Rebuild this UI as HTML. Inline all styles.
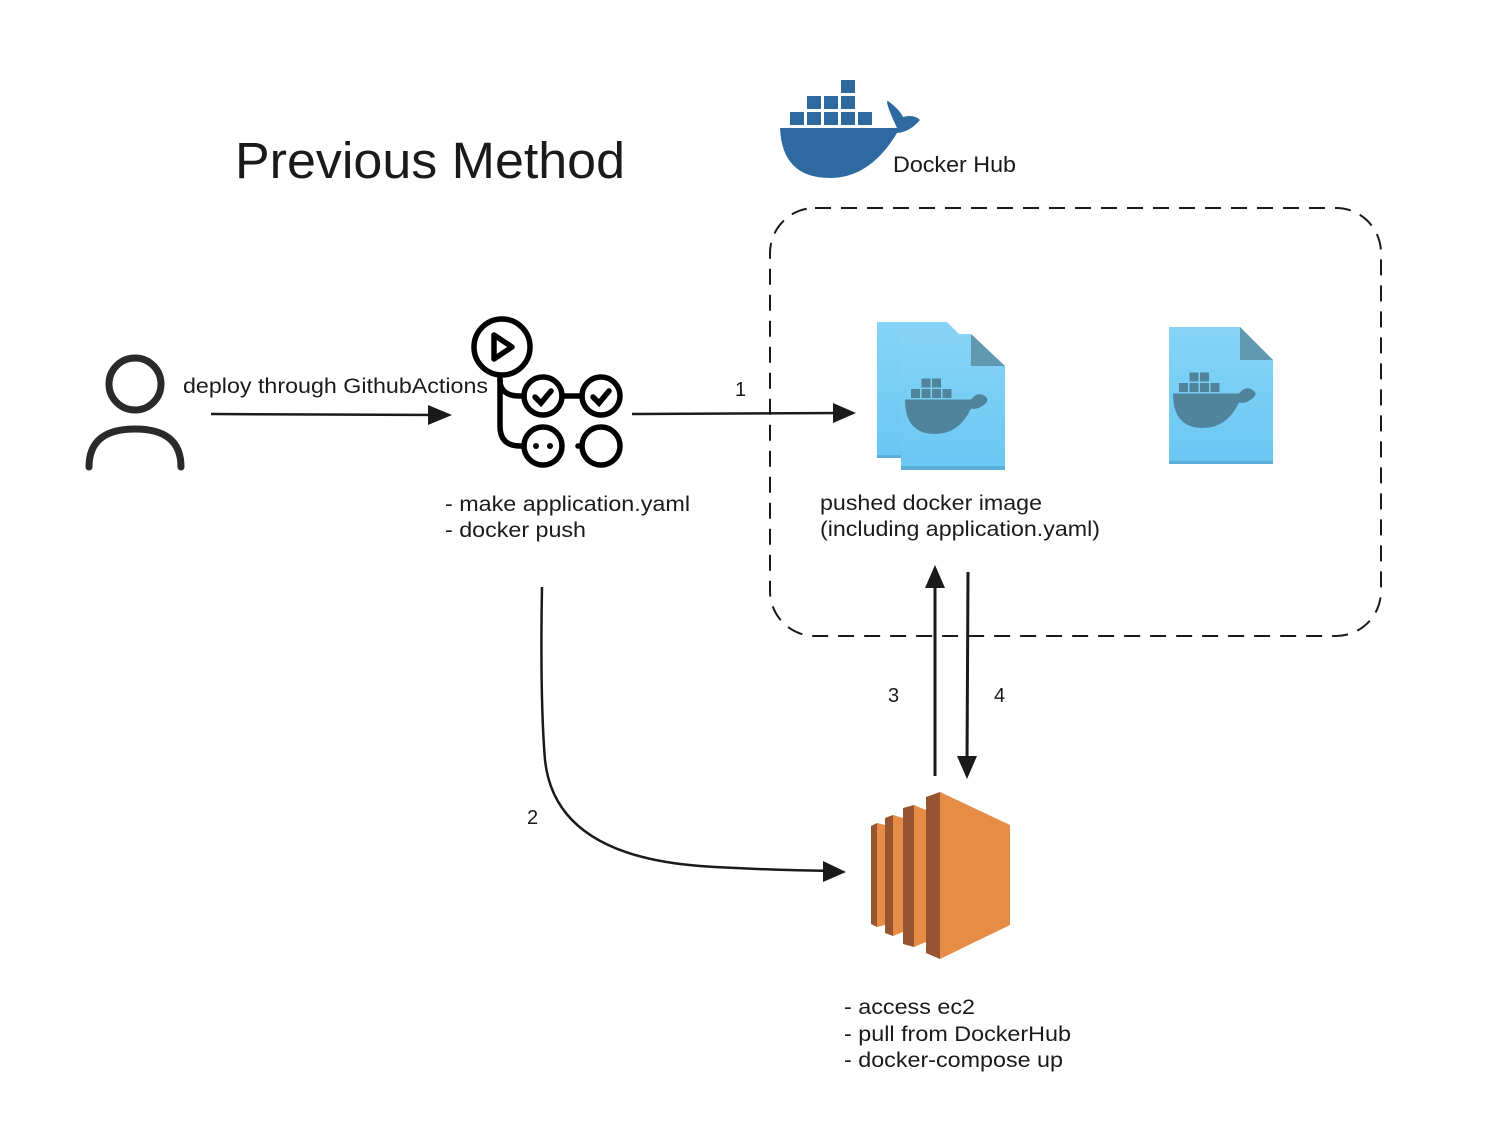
<!DOCTYPE html>
<html><head><meta charset="utf-8"><style>
body{margin:0;background:#fff;width:1502px;height:1140px;overflow:hidden}
svg{display:block}
text{font-family:"Liberation Sans",Arial,sans-serif;fill:#1a1a1a}
</style></head><body>
<svg width="1502" height="1140" viewBox="0 0 1502 1140" xmlns="http://www.w3.org/2000/svg">
<defs>
<linearGradient id="fg" x1="0" y1="0" x2="0" y2="1"><stop offset="0" stop-color="#86d4f6"/><stop offset="1" stop-color="#6ac7f2"/></linearGradient>
<g id="whale">
<rect x="-26" y="-14" width="6" height="6"/><rect x="-19" y="-14" width="6" height="6"/><rect x="-12" y="-14" width="6" height="6"/><rect x="-5" y="-14" width="6" height="6"/>
<rect x="-19" y="-21" width="6" height="6"/><rect x="-12" y="-21" width="6" height="6"/>
<path d="M-30,-7 L14,-7 Q18,-12 22,-10 Q28,-7 22,-3 Q18,0 14,-1 Q6,16 -10,16 Q-30,16 -30,-7Z"/>
</g>
</defs>
<text x="235" y="178" font-size="51" textLength="390" lengthAdjust="spacingAndGlyphs">Previous Method</text>
<g fill="#2e6aa0">
<rect x="790" y="112" width="14" height="13"/><rect x="807" y="112" width="14" height="13"/><rect x="824" y="112" width="14" height="13"/><rect x="841" y="112" width="14" height="13"/><rect x="858" y="112" width="14" height="13"/>
<rect x="807" y="96" width="14" height="13"/><rect x="824" y="96" width="14" height="13"/><rect x="841" y="96" width="14" height="13"/>
<rect x="841" y="80" width="14" height="13"/>
<path d="M780,128 L897,128 Q884,100 888,101 Q900,110 903,117 Q914,114 920,120 Q910,132 897,133 Q870,178 830,178 Q782,178 780,128Z"/>
</g>
<text x="893" y="172" font-size="22" textLength="123" lengthAdjust="spacingAndGlyphs">Docker Hub</text>
<rect x="770" y="208" width="611" height="428" rx="45" fill="none" stroke="#1a1a1a" stroke-width="2" stroke-dasharray="16,10"/>
<circle cx="135" cy="384" r="26" fill="none" stroke="#2a2a2a" stroke-width="7"/>
<path d="M89,467 Q89,429 135,429 Q181,429 181,467" fill="none" stroke="#2a2a2a" stroke-width="7" stroke-linecap="round"/>
<text x="183" y="393" font-size="21" textLength="305" lengthAdjust="spacingAndGlyphs">deploy through GithubActions</text>
<line x1="211" y1="414" x2="440" y2="415" stroke="#1a1a1a" stroke-width="2.5"/>
<polygon points="428,405 452,415 428,425" fill="#1a1a1a"/>
<g fill="none" stroke="#000" stroke-width="5.5" stroke-linecap="round">
<circle cx="502" cy="347" r="28"/>
<path d="M494,335 L512,347 L494,359Z" stroke-linejoin="round"/>
<path d="M500,375 L500,426 Q500,446 520,446 L524,446"/>
<path d="M500,380 Q500,396 520,396 L524,396"/>
<circle cx="543" cy="396" r="19"/><circle cx="601" cy="396" r="19"/>
<circle cx="543" cy="446" r="19"/><circle cx="601" cy="446" r="19"/>
<line x1="562" y1="396" x2="582" y2="396"/>
<path d="M535,397 L541,403 L551,391"/><path d="M593,397 L599,403 L609,391"/>
<line x1="578" y1="446" x2="580" y2="446"/>
</g>
<circle cx="536" cy="446" r="3" fill="#000"/><circle cx="550" cy="446" r="3" fill="#000"/>
<text x="445" y="511" font-size="21" textLength="245" lengthAdjust="spacingAndGlyphs">- make application.yaml</text>
<text x="445" y="537" font-size="21" textLength="141" lengthAdjust="spacingAndGlyphs">- docker push</text>
<line x1="632" y1="414" x2="845" y2="413" stroke="#1a1a1a" stroke-width="2.5"/>
<polygon points="833,403 856,413 833,423" fill="#1a1a1a"/>
<text x="735" y="396" font-size="20">1</text>
<g>
<path d="M877,322 L947,322 L977,352 L977,458 L877,458Z" fill="url(#fg)"/>
<rect x="877" y="455" width="100" height="3" fill="#5aaed8"/>
<path d="M901,334 L971,334 L1005,366 L1005,470 L901,470Z" fill="url(#fg)"/>
<path d="M971,334 L1005,366 L971,366Z" fill="#6098b0"/>
<rect x="901" y="466" width="104" height="4" fill="#5aaed8"/>
<use href="#whale" transform="translate(950,410) scale(1.5)" fill="#50849c"/>
<path d="M1169,327 L1240,327 L1273,360 L1273,464 L1169,464Z" fill="url(#fg)"/>
<path d="M1240,327 L1273,360 L1240,360Z" fill="#6098b0"/>
<rect x="1169" y="461" width="104" height="3" fill="#5aaed8"/>
<use href="#whale" transform="translate(1218,404) scale(1.5)" fill="#50849c"/>
</g>
<text x="820" y="510" font-size="21" textLength="222" lengthAdjust="spacingAndGlyphs">pushed docker image</text>
<text x="820" y="536" font-size="21" textLength="280" lengthAdjust="spacingAndGlyphs">(including application.yaml)</text>
<path d="M542,587 Q540,700 545,760 Q555,855 700,866 Q760,870 835,871" fill="none" stroke="#1a1a1a" stroke-width="2.5"/>
<polygon points="823,861 846,872 823,882" fill="#1a1a1a"/>
<text x="527" y="824" font-size="20">2</text>
<line x1="935" y1="776" x2="935" y2="580" stroke="#1a1a1a" stroke-width="3"/>
<polygon points="925,588 935,565 945,588" fill="#1a1a1a"/>
<line x1="968" y1="572" x2="967" y2="765" stroke="#1a1a1a" stroke-width="3"/>
<polygon points="957,756 967,779 977,756" fill="#1a1a1a"/>
<text x="888" y="702" font-size="20">3</text>
<text x="994" y="702" font-size="20">4</text>
<polygon points="871,826 877,823 877,927 871,924" fill="#975430"/>
<polygon points="877,823 885,825 885,925 877,927" fill="#e68c47"/>
<polygon points="885,818 893,815 893,936 885,933" fill="#975430"/>
<polygon points="893,815 903,818 903,932 893,936" fill="#e68c47"/>
<polygon points="903,808 914,805 914,947 903,944" fill="#975430"/>
<polygon points="914,805 926,810 926,942 914,947" fill="#e68c47"/>
<polygon points="926,797 940,792 940,959 926,953" fill="#975430"/>
<polygon points="940,792 1010,825 1010,925 940,959" fill="#e68c47"/>
<text x="844" y="1014" font-size="21" textLength="131" lengthAdjust="spacingAndGlyphs">- access ec2</text>
<text x="844" y="1041" font-size="21" textLength="227" lengthAdjust="spacingAndGlyphs">- pull from DockerHub</text>
<text x="844" y="1067" font-size="21" textLength="219" lengthAdjust="spacingAndGlyphs">- docker-compose up</text>
</svg>
</body></html>
